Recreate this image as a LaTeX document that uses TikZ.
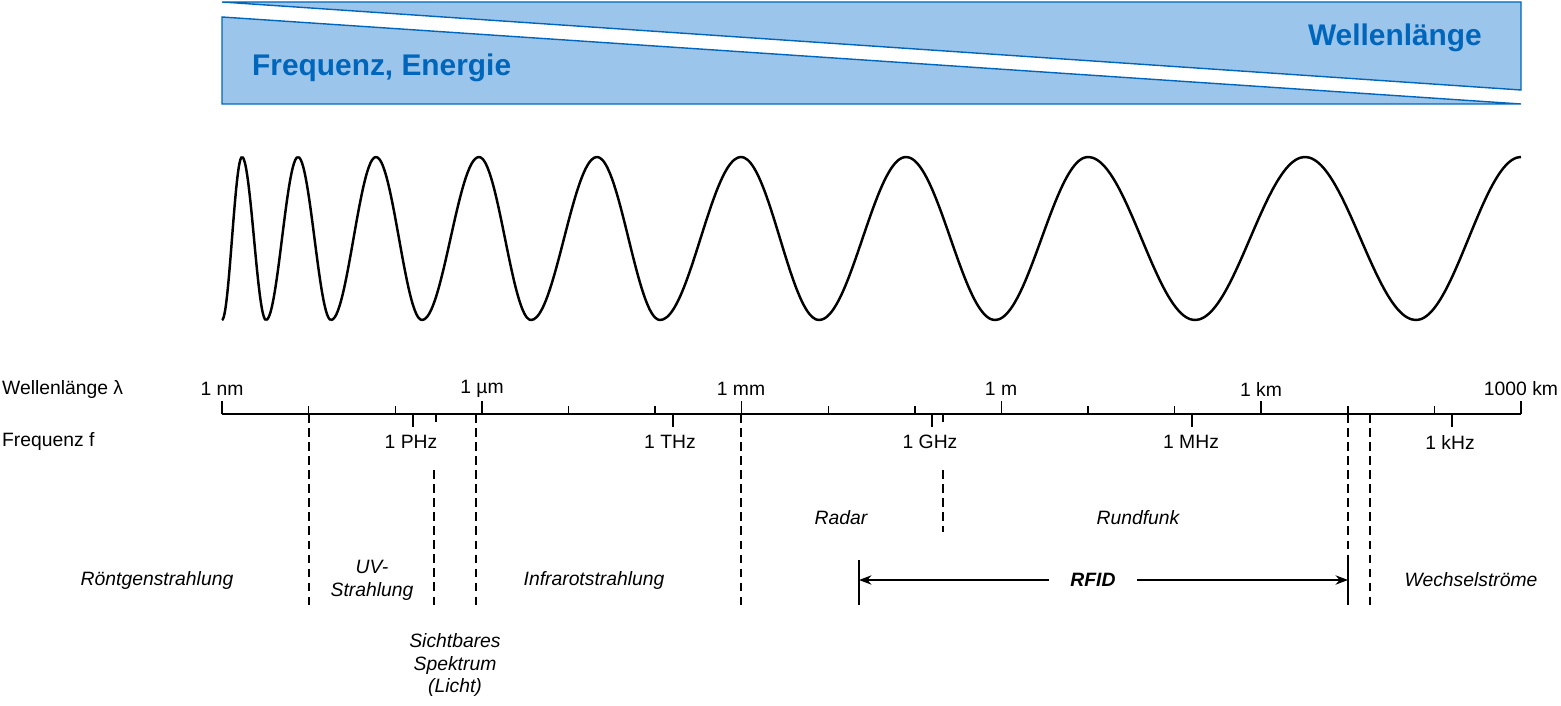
\documentclass[tikz,border=0pt]{standalone}
\usepackage{fontspec}
\setmainfont{Liberation Sans}
\usetikzlibrary{arrows.meta, positioning}
\definecolor{bandfill}{RGB}{155,197,234}
\definecolor{bandline}{RGB}{0,102,187}

\begin{document}
\begin{tikzpicture}[
    x=0.02cm, y=-0.02cm,
    band/.style={draw=bandline, fill=bandfill, line width=0.8pt},
    bandtext/.style={font=\fontsize{17}{20}\selectfont\bfseries, text=bandline},
    lbl/.style={font=\fontsize{11}{13}\selectfont, inner sep=1pt},
    region/.style={font=\fontsize{11}{13}\selectfont\itshape, align=center, inner sep=1pt},
    sep/.style={dashed, line width=0.8pt, dash pattern=on 5pt off 3pt},
    >={Stealth[length=2.5mm]}
]
\useasboundingbox (0,0) rectangle (1561,706);

% banner
\draw[band] (222,2) -- (1521,2) -- (1521,90) -- cycle;
\draw[band] (222,17) -- (222,104) -- (1521,104) -- cycle;
\node[bandtext, anchor=east] (wl) at (1488,38) {Wellenlänge};
\node[bandtext, anchor=west] (fe) at (246,68) {Frequenz, Energie};

% wave
\foreach \xa/\xb/\s in {222/242/1, 242/266/-1, 266/298/1, 298/331/-1, 331/376/1,
    376/422/-1, 422/479/1, 479/531/-1, 531/597/1, 597/660/-1, 660/741/1,
    741/819/-1, 819/906/1, 906/995/-1, 995/1088/1, 1088/1195/-1,
    1195/1305/1, 1305/1416/-1, 1416/1521/1}
  \draw[line width=1.4pt, domain=0:1, samples=25, smooth]
    plot ({\xa+(\xb-\xa)*\x}, {238.5+\s*81.5*cos(180*\x)});

% axis
\coordinate (a0) at (222,414);
\coordinate (a1) at (1521,414);
\draw[line width=1pt] (a0) -- (a1);
\foreach \i in {0,...,15}
  \draw[line width=0.8pt] ({222+86.6*\i},414) -- ({222+86.6*\i},406);
\foreach \i in {0,...,5}
  \draw[line width=1pt] ({222+259.8*\i},414) -- ({222+259.8*\i},401);
\foreach \x in {413,673,932,1192,1452}
  \draw[line width=0.8pt] (\x,414) -- (\x,427);
\foreach \x in {436,943}
  \draw[line width=0.8pt] (\x,414) -- (\x,422);

\node[lbl, anchor=west] (wlam) at (0,389) {Wellenlänge λ};
\node[lbl, anchor=west] (freq) at (0,442) {Frequenz f};
\foreach \x/\t [count=\k] in {222/1 nm, 482/1 µm, 741/1 mm, 1001/1 m, 1261/1 km, 1521/1000 km}
  \node[lbl] (w\k) at (\x,389) {\t};
\foreach \x/\t [count=\k] in {411/1 PHz, 670/1 THz, 930/1 GHz, 1191/1 MHz, 1450/1 kHz}
  \node[lbl] (f\k) at (\x,442) {\t};

% separators
\foreach \x in {309,476,741,1348,1370}
  \draw[sep] (\x,414) -- (\x,605);
\draw[sep] (434,470) -- (434,605);
\draw[sep] (943,470) -- (943,532);

% regions
\node[region] (roent) at (157,580) {Röntgenstrahlung};
\node[region] (uv) at (372,580) {UV-\\Strahlung};
\node[region] (vis) at (455,665) {Sichtbares\\Spektrum\\(Licht)};
\node[region] (ir) at (594,580) {Infrarotstrahlung};
\node[region] (radar) at (841,518) {Radar};
\node[region] (rund) at (1138,518) {Rundfunk};
\node[region] (wechsel) at (1471,580) {Wechselströme};

% RFID
\coordinate (r0) at (859,580);
\coordinate (r1) at (1348,580);
\draw[line width=1pt] (859,560) -- (859,605);
\draw[line width=1pt] (1348,560) -- (1348,605);
\node[region, font=\fontsize{11}{13}\selectfont\bfseries\itshape, inner sep=12pt] (rfid) at (1093,580) {RFID};
\draw[->, line width=0.8pt] (rfid) -- (r0);
\draw[->, line width=0.8pt] (rfid) -- (r1);
\end{tikzpicture}
\end{document}
